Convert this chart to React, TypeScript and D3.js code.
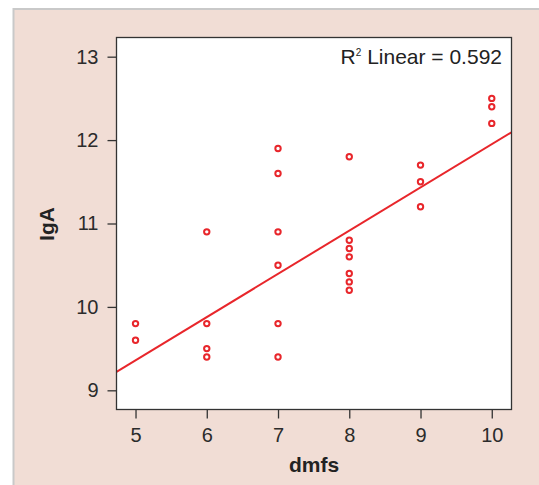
import * as d3 from "d3";
import React, { useEffect, useRef } from "react";

// dmfs values and IgA values, one pair per point
const dmfs = [5, 5, 6, 6, 6, 6, 7, 7, 7, 7, 7, 7, 8, 8, 8, 8, 8, 8, 8, 9, 9, 9, 10, 10, 10];
const igA = [
  9.8, 9.6, 10.9, 9.8, 9.5, 9.4, 11.9, 11.6, 10.9, 10.5, 9.8, 9.4, 11.8, 10.8, 10.7, 10.6,
  10.4, 10.3, 10.2, 11.7, 11.5, 11.2, 12.5, 12.4, 12.2,
];
const xTicks = [5, 6, 7, 8, 9, 10];
const yTicks = [9, 10, 11, 12, 13];
// fitted line: intercept, slope (as drawn)
const fitLine = [6.77, 0.518];
const r2Label = "0.592";

const W = 539;
const H = 485;

const App = () => {
  const ref = useRef<SVGSVGElement>(null);

  useEffect(() => {
    const svg = d3.select(ref.current);
    svg.selectAll("*").remove();

    const left = 116.5;
    const right = 511.5;
    const top = 37.5;
    const bottom = 409.5;

    const x = d3.scaleLinear().domain([4.733, 10.277]).range([left, right]);
    const y = d3.scaleLinear().domain([8.77, 13.23]).range([bottom, top]);

    // panel
    svg.append("rect").attr("width", W).attr("height", H).attr("fill", "#fff");
    svg
      .append("rect")
      .attr("x", 13.5)
      .attr("y", 9)
      .attr("width", W)
      .attr("height", H)
      .attr("fill", "#f1ddd5")
      .attr("stroke", "#c9c9c9")
      .attr("stroke-width", 2);

    svg
      .append("rect")
      .attr("x", left)
      .attr("y", top)
      .attr("width", right - left)
      .attr("height", bottom - top)
      .attr("fill", "#fff");

    const font = "'Liberation Sans', Arial, sans-serif";

    const xAxis = svg
      .append("g")
      .attr("transform", `translate(0,${bottom})`)
      .call(d3.axisBottom(x).tickValues(xTicks).tickSize(9).tickPadding(9).tickFormat(d3.format("d")));
    const yAxis = svg
      .append("g")
      .attr("transform", `translate(${left},0)`)
      .call(d3.axisLeft(y).tickValues(yTicks).tickSize(9).tickPadding(9).tickFormat(d3.format("d")));

    [xAxis, yAxis].forEach((a) => {
      a.select(".domain").remove();
      a.selectAll("line").attr("stroke", "#333").attr("stroke-width", 1.3);
      a.selectAll("text").attr("fill", "#2b2b2b").style("font-family", font).style("font-size", "20px");
    });

    // clip line to the plot
    svg
      .append("clipPath")
      .attr("id", "plotclip")
      .append("rect")
      .attr("x", left)
      .attr("y", top)
      .attr("width", right - left)
      .attr("height", bottom - top);

    const [b0, b1] = fitLine;
    const [x0, x1] = x.domain();
    svg
      .append("line")
      .attr("clip-path", "url(#plotclip)")
      .attr("x1", x(x0))
      .attr("y1", y(b0 + b1 * x0))
      .attr("x2", x(x1))
      .attr("y2", y(b0 + b1 * x1))
      .attr("stroke", "#e8262b")
      .attr("stroke-width", 2);

    svg
      .append("g")
      .selectAll("circle")
      .data(dmfs.map((d, i) => [d, igA[i]]))
      .join("circle")
      .attr("cx", (d) => x(d[0]))
      .attr("cy", (d) => y(d[1]))
      .attr("r", 2.7)
      .attr("fill", "none")
      .attr("stroke", "#e8262b")
      .attr("stroke-width", 2);

    svg
      .append("rect")
      .attr("x", left)
      .attr("y", top)
      .attr("width", right - left)
      .attr("height", bottom - top)
      .attr("fill", "none")
      .attr("stroke", "#333")
      .attr("stroke-width", 1.3);

    const r2 = svg
      .append("text")
      .attr("x", 502)
      .attr("y", 63.5)
      .attr("text-anchor", "end")
      .attr("fill", "#222")
      .style("font-family", font)
      .style("font-size", "21px");
    r2.append("tspan").text("R");
    r2.append("tspan").attr("dy", -8).style("font-size", "10px").text("2");
    r2.append("tspan").attr("dy", 8).text(` Linear = ${r2Label}`);

    svg
      .append("text")
      .attr("x", 314)
      .attr("y", 472)
      .attr("text-anchor", "middle")
      .attr("fill", "#222")
      .style("font-family", font)
      .style("font-size", "21px")
      .style("font-weight", "bold")
      .text("dmfs");

    svg
      .append("text")
      .attr("transform", `translate(54,224) rotate(-90)`)
      .attr("text-anchor", "middle")
      .attr("fill", "#222")
      .style("font-family", font)
      .style("font-size", "21px")
      .style("font-weight", "bold")
      .text("IgA");
  }, []);

  return (
    <svg
      ref={ref}
      width={W}
      height={H}
      style={{ position: "absolute", left: 0, top: 0, display: "block" }}
    />
  );
};

export default App;
